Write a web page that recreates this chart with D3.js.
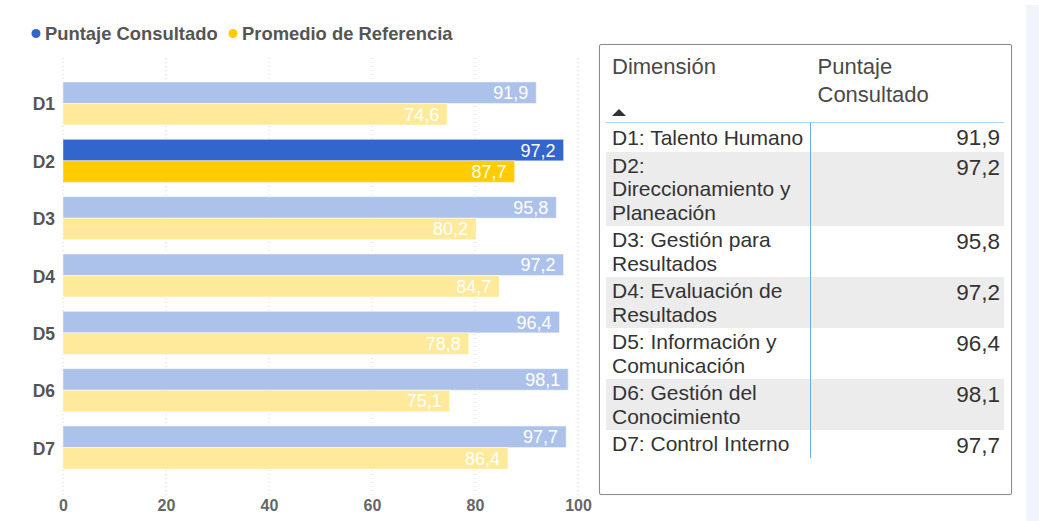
<!DOCTYPE html>
<html lang="es">
<head>
  <meta charset="UTF-8">
  <title>Puntaje por Dimensión</title>
  <script src="https://d3js.org/d3.v7.min.js"></script>
  <style>
    body {
      margin: 0;
      background: #fff;
      font-family: "Liberation Sans", Arial, sans-serif;
      width: 1039px;
      height: 521px;
      overflow: hidden;
      position: relative;
    }
    #chart { position: absolute; left: 0; top: 0; }
    .strip {
      position: absolute;
      left: 1026px; top: 5px;
      width: 13px; height: 516px;
      background: #f1f4fc;
    }
    .panel {
      position: absolute;
      left: 599px; top: 44px;
      width: 411px; height: 449px;
      border: 1px solid #8c8c8c;
      border-radius: 2px;
      box-shadow: 0 0 1px #bbb;
    }
    table {
      position: absolute;
      left: 6px; top: 0;
      width: 398px;
      border-collapse: collapse;
      color: #333;
    }
    th {
      font-weight: normal;
      font-size: 22px;
      line-height: 28px;
      text-align: left;
      vertical-align: top;
      color: #4a4a4a;
      padding: 8px 0 0 6px;
      height: 69px;
      border-bottom: 1px solid #a8d4f6;
      position: relative;
    }
    th.val { padding-left: 7px; }
    th .arrow {
      position: absolute;
      left: 6px; top: 64px;
      width: 0; height: 0;
      border-left: 7px solid transparent;
      border-right: 7px solid transparent;
      border-bottom: 7px solid #333;
    }
    td {
      font-size: 21px;
      line-height: 23.5px;
      vertical-align: top;
      padding: 2px 0 2px 6px;
    }
    td.dim { width: 198px; border-right: 1px solid #5fb0f2; }
    td.val {
      text-align: right;
      font-size: 22.5px;
      padding: 4px 4px 0 0;
    }
    tr.first td { padding-top: 3px; }
    tr.alt td { background: #ececec; }
  </style>
</head>
<body>
  <svg id="chart" width="1039" height="521"></svg>
  <div class="strip"></div>
  <div class="panel"><table id="tbl"></table></div>

  <script>
    const categories = ["D1", "D2", "D3", "D4", "D5", "D6", "D7"];
    const dimensionNames = [
      "D1: Talento Humano",
      "D2: Direccionamiento y Planeación",
      "D3: Gestión para Resultados",
      "D4: Evaluación de Resultados",
      "D5: Información y Comunicación",
      "D6: Gestión del Conocimiento",
      "D7: Control Interno"
    ];
    const puntajeConsultado = [91.9, 97.2, 95.8, 97.2, 96.4, 98.1, 97.7];
    const promedioReferencia = [74.6, 87.7, 80.2, 84.7, 78.8, 75.1, 86.4];
    const xTicks = [0, 20, 40, 60, 80, 100];
    const seriesNames = ["Puntaje Consultado", "Promedio de Referencia"];
    const highlighted = "D2";

    const colors = ["#3366cc", "#ffcc00"];
    const faded = ["#adc2ea", "#ffe99a"];
    const fmt = v => d3.format(".1f")(v).replace(".", ",");

    const svg = d3.select("#chart");

    const x = d3.scaleLinear().domain([0, 100]).range([63, 578]);
    const y = d3.scaleBand().domain(categories)
      .range([74.8, 476.2]).paddingInner(0.25).paddingOuter(0.125);
    const ySub = d3.scaleBand().domain(seriesNames).range([0, y.bandwidth()]);

    // legend
    const legend = svg.append("g").attr("class", "legend");
    const legendX = [36, 233];
    seriesNames.forEach((name, i) => {
      legend.append("circle")
        .attr("cx", legendX[i]).attr("cy", 33.5).attr("r", 4.5)
        .attr("fill", colors[i]);
      legend.append("text")
        .attr("x", legendX[i] + 9).attr("y", 40)
        .attr("font-size", 18.4).attr("font-weight", "bold")
        .attr("fill", "#555")
        .text(name);
    });

    // gridlines
    svg.append("g")
      .selectAll("line")
      .data(xTicks)
      .join("line")
        .attr("x1", d => x(d)).attr("x2", d => x(d))
        .attr("y1", 58).attr("y2", 495)
        .attr("stroke", "#d6d6d6")
        .attr("stroke-dasharray", "1,3");

    // x axis labels
    const xAxis = svg.append("g")
      .attr("transform", "translate(0,495)")
      .call(d3.axisBottom(x).tickValues(xTicks).tickSize(0).tickPadding(5));
    xAxis.select(".domain").remove();
    xAxis.selectAll("text")
      .attr("font-family", "Liberation Sans, Arial, sans-serif")
      .attr("font-size", 16).attr("font-weight", "bold")
      .attr("fill", "#666");

    // y axis labels
    const yAxis = svg.append("g")
      .attr("transform", "translate(55,0)")
      .call(d3.axisLeft(y).tickSize(0).tickPadding(0));
    yAxis.select(".domain").remove();
    yAxis.selectAll("text")
      .attr("font-family", "Liberation Sans, Arial, sans-serif")
      .attr("font-size", 17.5).attr("font-weight", "bold")
      .attr("fill", "#555")
      .attr("dy", "0.4em");

    // bars
    const rows = categories.map((c, i) => ({
      cat: c,
      values: [puntajeConsultado[i], promedioReferencia[i]]
    }));

    const groups = svg.append("g").selectAll("g")
      .data(rows)
      .join("g")
        .attr("transform", d => `translate(0,${y(d.cat)})`);

    groups.selectAll("rect")
      .data(d => d.values.map((v, i) => ({ cat: d.cat, v, i })))
      .join("rect")
        .attr("x", x(0))
        .attr("y", d => ySub(seriesNames[d.i]))
        .attr("width", d => x(d.v) - x(0))
        .attr("height", ySub.bandwidth())
        .attr("fill", d => d.cat === highlighted ? colors[d.i] : faded[d.i])
        .attr("stroke", "rgba(255,255,255,0.45)")
        .attr("stroke-width", 1);

    groups.selectAll("text")
      .data(d => d.values.map((v, i) => ({ cat: d.cat, v, i })))
      .join("text")
        .attr("x", d => x(d.v) - 8)
        .attr("y", d => ySub(seriesNames[d.i]) + ySub.bandwidth() / 2)
        .attr("dy", "0.36em")
        .attr("text-anchor", "end")
        .attr("font-size", 18)
        .attr("fill", "#fff")
        .text(d => fmt(d.v));

    // table
    const table = d3.select("#tbl");
    const head = table.append("thead").append("tr");
    const th1 = head.append("th").attr("class", "dim");
    th1.append("span").text("Dimensión");
    th1.append("div").attr("class", "arrow");
    head.append("th").attr("class", "val").html("Puntaje<br>Consultado");

    const body = table.append("tbody");
    const trs = body.selectAll("tr")
      .data(dimensionNames.map((n, i) => ({ n, v: puntajeConsultado[i] })))
      .join("tr")
        .attr("class", (d, i) => i === 0 ? "first" : i % 2 ? "alt" : null);
    trs.append("td").attr("class", "dim").text(d => d.n);
    trs.append("td").attr("class", "val").text(d => fmt(d.v));
  </script>
</body>
</html>
